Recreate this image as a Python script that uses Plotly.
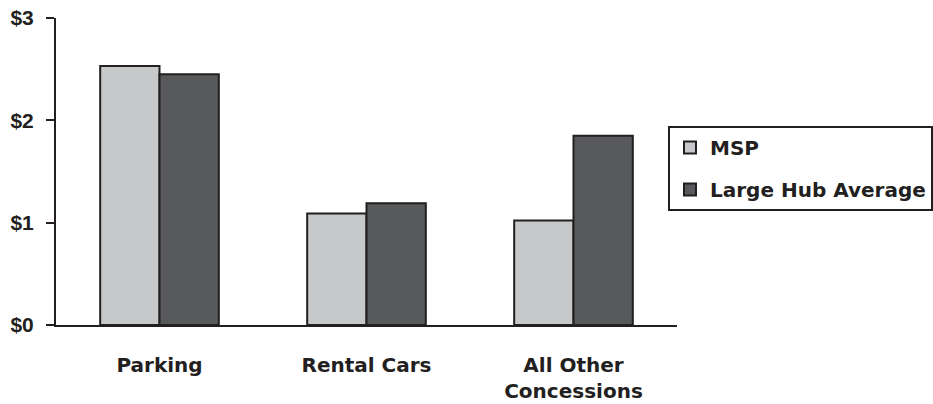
import plotly.graph_objects as go

categories = ["Parking", "Rental Cars", "All Other<br>Concessions"]
msp_values = [2.53, 1.09, 1.02]
large_hub_values = [2.45, 1.19, 1.85]
y_tick_values = [0, 1, 2, 3]
y_tick_labels = ["$0", "$1", "$2", "$3"]

INK = "#231f20"
LIGHT = "#c7c8ca"
DARK = "#58595b"

fig = go.Figure()
fig.add_trace(go.Bar(
    x=categories, y=msp_values, name="MSP",
    marker=dict(color=LIGHT, line=dict(color=INK, width=2)),
    legendgroup="a",
))
fig.add_trace(go.Bar(
    x=categories, y=large_hub_values, name="Large Hub Average",
    marker=dict(color=DARK, line=dict(color=INK, width=2)),
    legendgroup="b",
))

fig.update_layout(
    width=933, height=404,
    margin=dict(l=56, r=256, t=18, b=79, autoexpand=False),
    paper_bgcolor="white", plot_bgcolor="white",
    barmode="group", bargap=0.427, bargroupgap=0,
    showlegend=True,
    legend=dict(
        x=0.9855, xanchor="left", y=0.648, yanchor="top",
        bordercolor=INK, borderwidth=2, bgcolor="white",
        font=dict(family="DejaVu Sans", size=20, color=INK, weight="bold"),
        traceorder="grouped", tracegroupgap=13,
        itemwidth=30,
    ),
    xaxis=dict(
        showline=True, linecolor=INK, linewidth=2,
        ticks="", showgrid=False, zeroline=False, automargin=False,
        tickfont=dict(family="DejaVu Sans", size=20, color=INK, weight="bold"),
        ticklabelstandoff=21,
        range=[-0.5, 2.5],
    ),
    yaxis=dict(
        range=[0, 3], tickvals=y_tick_values, ticktext=y_tick_labels,
        showline=True, linecolor=INK, linewidth=2, automargin=False,
        ticks="outside", ticklen=8, tickwidth=2, tickcolor=INK,
        showgrid=False, zeroline=False,
        tickfont=dict(family="Liberation Sans", size=21, color=INK, weight="bold"),
        ticklabelstandoff=8,
    ),
)

fig.write_html("out.html")
